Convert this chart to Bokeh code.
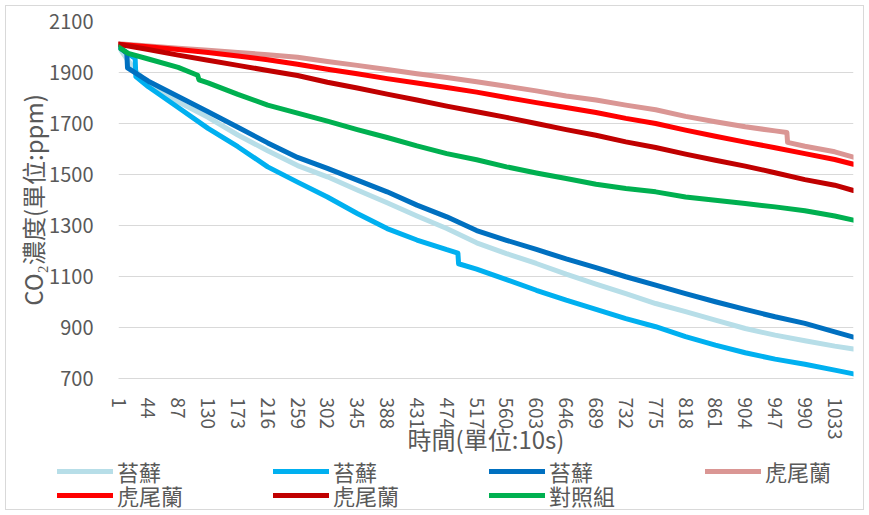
from bokeh.plotting import figure
from bokeh.models import FixedTicker, Legend, LegendItem, Range1d
from bokeh.embed import file_html
from bokeh.resources import INLINE

# CO2 concentration (ppm) against time index (unit: 10 s)
x_ticks = [1, 44, 87, 130, 173, 216, 259, 302, 345, 388, 431, 474, 517, 560,
           603, 646, 689, 732, 775, 818, 861, 904, 947, 990, 1033]
y_ticks = [700, 900, 1100, 1300, 1500, 1700, 1900, 2100]

# moss, run 1
moss1_t = [1, 14, 26, 44, 87, 130, 173, 216, 259, 302, 345, 388, 431, 474, 517,
           560, 603, 646, 689, 732, 775, 818, 861, 904, 947, 990, 1033, 1060]
moss1_v = [2000, 1950, 1905, 1857, 1785, 1724, 1655, 1593, 1535, 1491, 1439, 1389,
           1337, 1288, 1232, 1190, 1151, 1109, 1070, 1033, 994, 962, 929, 896,
           870, 848, 827, 816]

# moss, run 2 (sensor steps near t=25 and t=490)
moss2_t = [1, 25, 26, 44, 87, 130, 173, 216, 259, 302, 345, 388, 431, 474, 490,
           491, 517, 560, 603, 646, 689, 732, 775, 818, 861, 904, 947, 990, 1033,
           1060]
moss2_v = [2000, 1955, 1884, 1844, 1763, 1681, 1609, 1530, 1470, 1412, 1347, 1288,
           1243, 1205, 1192, 1150, 1129, 1088, 1046, 1007, 971, 935, 903, 864,
           831, 801, 776, 756, 733, 718]

# moss, run 3 (sensor step near t=13)
moss3_t = [1, 13, 14, 44, 87, 130, 173, 216, 259, 302, 345, 388, 431, 474, 517,
           560, 603, 646, 689, 732, 775, 818, 861, 904, 947, 990, 1033, 1060]
moss3_v = [2003, 1975, 1918, 1866, 1806, 1746, 1685, 1624, 1567, 1524, 1478, 1432,
           1380, 1334, 1280, 1242, 1206, 1169, 1135, 1099, 1066, 1033, 1001, 971,
           942, 916, 883, 862]

# snake plant, run 1 (sensor step near t=964)
snake1_t = [1, 44, 87, 130, 173, 216, 259, 302, 345, 388, 431, 474, 517, 560,
            603, 646, 689, 732, 775, 818, 861, 904, 947, 964, 965, 990, 1033, 1060]
snake1_v = [2013, 2004, 1995, 1987, 1978, 1970, 1960, 1943, 1928, 1912, 1895, 1880,
            1864, 1846, 1828, 1808, 1792, 1772, 1754, 1728, 1707, 1687, 1671, 1665,
            1626, 1611, 1589, 1568]

# snake plant, run 2
snake2_t = x_ticks + [1060]
snake2_v = [2011, 2001, 1990, 1978, 1965, 1950, 1932, 1913, 1895, 1876, 1859, 1841,
            1823, 1802, 1782, 1763, 1743, 1720, 1700, 1674, 1650, 1627, 1605, 1582,
            1559, 1540]

# snake plant, run 3
snake3_t = x_ticks + [1060]
snake3_v = [2011, 1990, 1968, 1948, 1928, 1908, 1888, 1862, 1839, 1815, 1792, 1768,
            1746, 1724, 1700, 1676, 1654, 1628, 1606, 1580, 1556, 1533, 1507, 1480,
            1458, 1437]

# control group (step near t=116)
control_t = [1, 15, 44, 87, 115, 117, 130, 173, 216, 259, 302, 345, 388, 431, 474,
             517, 560, 603, 646, 689, 732, 775, 818, 861, 904, 947, 990, 1033, 1060]
control_v = [2000, 1975, 1953, 1920, 1889, 1871, 1859, 1814, 1772, 1741, 1709, 1676,
             1645, 1612, 1582, 1558, 1530, 1506, 1484, 1462, 1445, 1432, 1412, 1399,
             1386, 1373, 1358, 1337, 1321]

series = [
    ("苔蘚", moss1_t, moss1_v, "#B7DEE8"),
    ("苔蘚", moss2_t, moss2_v, "#00B0F0"),
    ("苔蘚", moss3_t, moss3_v, "#0070C0"),
    ("虎尾蘭", snake1_t, snake1_v, "#DA9694"),
    ("虎尾蘭", snake2_t, snake2_v, "#FF0000"),
    ("虎尾蘭", snake3_t, snake3_v, "#C00000"),
    ("對照組", control_t, control_v, "#00B050"),
]

FONT = "Noto Sans CJK TC"
TEXT = "#595959"
GRID = "#D9D9D9"
LINE_W = 5


def frame_edges(*sides):
    # thin grey chart-area border drawn 5px inside the given edges
    offs = {"left": "5px 0", "right": "-5px 0", "top": "0 5px", "bottom": "0 -5px"}
    offs1 = {"left": "6px 0", "right": "-6px 0", "top": "0 6px", "bottom": "0 -6px"}
    white = [f"inset {offs[s]} 0 0 #FFFFFF" for s in sides]
    grey = [f"inset {offs1[s]} 0 0 {GRID}" for s in sides]
    return dict(zip(["box-shadow"], [", ".join(white + grey)]))


# main chart
p = figure(width=869, height=462, output_backend="svg", toolbar_location=None,
           x_range=Range1d(1, 1060), y_range=Range1d(700, 2100),
           min_border_left=118, min_border_right=16, min_border_top=21,
           min_border_bottom=84, outline_line_color=None, border_fill_alpha=0)
p.styles = frame_edges("left", "right", "top")

for name, t, v, color in series:
    p.line(t, v, line_color=color, line_width=LINE_W,
           line_cap="round", line_join="round")

p.xaxis.ticker = FixedTicker(ticks=x_ticks)
p.yaxis.ticker = FixedTicker(ticks=y_ticks)
p.xgrid.visible = False
p.ygrid.grid_line_color = GRID
p.ygrid.grid_line_width = 1

for ax in (p.xaxis[0], p.yaxis[0]):
    ax.major_tick_line_color = None
    ax.minor_tick_line_color = None
    ax.major_label_text_font = FONT
    ax.major_label_text_color = TEXT
    ax.axis_label_text_font = FONT
    ax.axis_label_text_color = TEXT
    ax.axis_label_text_font_size = "24px"
    ax.axis_label_text_font_style = "normal"

p.xaxis.axis_line_color = GRID
p.xaxis.major_label_text_font_size = "19px"
p.xaxis.major_label_orientation = "vertical"
p.xaxis.major_label_standoff = 13
p.xaxis.axis_label = "時間(單位:10s)"
p.xaxis.axis_label_standoff = -22

p.yaxis.axis_line_color = None
p.yaxis.major_label_text_font_size = "20px"
p.yaxis.major_label_standoff = 19
p.yaxis.axis_label = "CO₂濃度(單位:ppm)"
p.yaxis.axis_label_standoff = -4

# legend strip under the chart (pulled up over the chart's empty bottom margin);
# its proxy lines fall outside the strip's ranges
lg = figure(width=869, height=67, output_backend="svg", toolbar_location=None,
            x_range=Range1d(0, 1), y_range=Range1d(0, 1),
            x_axis_location=None, y_axis_location=None,
            min_border_left=0, min_border_right=0, min_border_top=0,
            min_border_bottom=0, outline_line_color=None,
            border_fill_alpha=0, background_fill_alpha=0)
lg.styles = dict(frame_edges("left", "right", "bottom"), **{"margin-top": "-14px"})
lg.xgrid.visible = False
lg.ygrid.visible = False

items = []
for name, t, v, color in series:
    r = lg.line(t, v, line_color=color, line_width=LINE_W, line_cap="round")
    items.append(LegendItem(label=name, renderers=[r]))

legend_style = dict(orientation="horizontal", padding=0, margin=0, spacing=0,
                    glyph_width=56, glyph_height=24, label_width=156,
                    label_height=24, label_standoff=4, border_line_color=None,
                    background_fill_alpha=0, label_text_font=FONT,
                    label_text_color=TEXT, label_text_font_size="22px")
# two legend rows, 4 + 3 entries
lg.add_layout(Legend(items=items[:4], location=(57, 28), **legend_style), "center")
lg.add_layout(Legend(items=items[4:], location=(57, 4), **legend_style), "center")

open("out.html", "w").write(file_html([p, lg], INLINE))
